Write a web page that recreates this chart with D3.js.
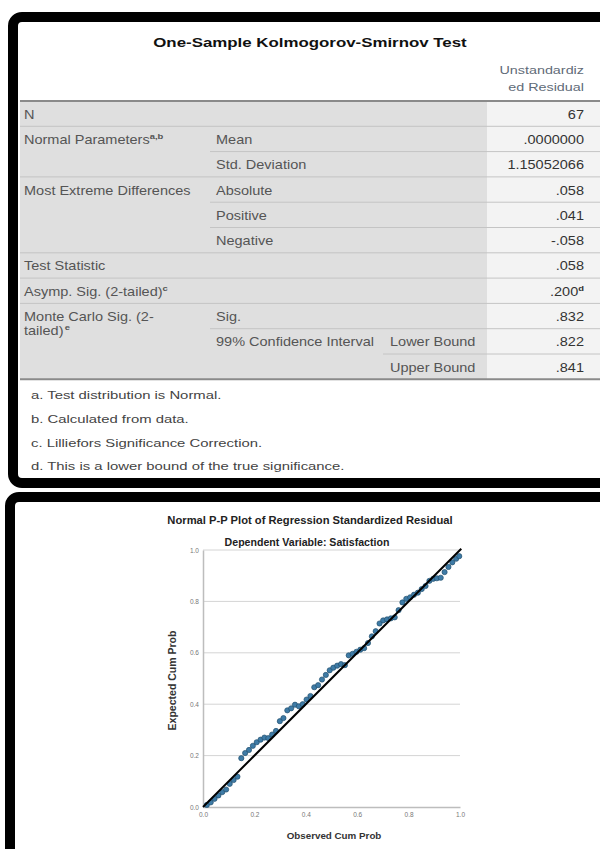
<!DOCTYPE html>
<html><head><meta charset="utf-8">
<script src="https://cdn.jsdelivr.net/npm/d3@7/dist/d3.min.js"></script>
<style>html,body{margin:0;padding:0;background:#fff}svg{display:block}</style>
</head><body>
<script>
// ---------- DATA ----------
const tableTitle = "One-Sample Kolmogorov-Smirnov Test";
const columnHeader = ["Unstandardiz", "ed Residual"];
const col1Labels = ["N", "Normal Parameters", "", "Most Extreme Differences", "", "", "Test Statistic", "Asymp. Sig. (2-tailed)", "Monte Carlo Sig. (2-", "", ""];
const col1Sup    = ["", "a,b", "", "", "", "", "", "c", "", "", ""];
const col2Labels = ["", "Mean", "Std. Deviation", "Absolute", "Positive", "Negative", "", "", "Sig.", "99% Confidence Interval", ""];
const col3Labels = ["", "", "", "", "", "", "", "", "", "Lower Bound", "Upper Bound"];
const cellValues = ["67", ".0000000", "1.15052066", ".058", ".041", "-.058", ".058", ".200", ".832", ".822", ".841"];
const valueSup   = ["", "", "", "", "", "", "", "d", "", "", ""];
const lineStart  = ["full", "c2", "full", "c2", "c2", "full", "full", "full", "c2", "c3", "bottom"];
const footnotes = ["a. Test distribution is Normal.", "b. Calculated from data.", "c. Lilliefors Significance Correction.", "d. This is a lower bound of the true significance."];

const plotTitle = "Normal P-P Plot of Regression Standardized Residual";
const plotSubtitle = "Dependent Variable: Satisfaction";
const xAxisLabel = "Observed Cum Prob";
const yAxisLabel = "Expected Cum Prob";
const axisTicks = [0, 0.2, 0.4, 0.6, 0.8, 1.0];
const observedCum = [0.015,0.030,0.045,0.060,0.075,0.090,0.104,0.119,0.134,0.149,0.164,0.179,0.194,0.209,0.224,0.239,0.254,0.269,0.284,0.299,0.313,0.328,0.343,0.358,0.373,0.388,0.403,0.418,0.433,0.448,0.463,0.478,0.493,0.507,0.522,0.537,0.552,0.567,0.582,0.597,0.612,0.627,0.642,0.657,0.672,0.687,0.701,0.716,0.731,0.746,0.761,0.776,0.791,0.806,0.821,0.836,0.851,0.866,0.881,0.896,0.910,0.925,0.940,0.955,0.970,0.985,0.997];
const expectedCum = [0.008,0.018,0.032,0.045,0.058,0.068,0.090,0.105,0.118,0.190,0.210,0.222,0.238,0.252,0.262,0.270,0.268,0.282,0.296,0.334,0.346,0.376,0.384,0.398,0.392,0.400,0.418,0.432,0.466,0.474,0.496,0.514,0.532,0.542,0.550,0.556,0.552,0.590,0.596,0.604,0.612,0.618,0.638,0.664,0.684,0.714,0.726,0.730,0.734,0.738,0.766,0.796,0.810,0.816,0.826,0.834,0.848,0.860,0.880,0.888,0.890,0.892,0.914,0.934,0.952,0.966,0.976];

// ---------- DRAW ----------
const W = 600, H = 849;
const svg = d3.select("body").append("svg").attr("width", W).attr("height", H);
const FONT = "'Liberation Sans', Arial, sans-serif";

// text placed at (x,y) and stretched horizontally by sx around its anchor
function stext(g, x, y, str, sx, size, opts = {}) {
  const t = g.append("text").attr("transform", `translate(${x},${y}) scale(${sx},1)`)
    .attr("font-size", size).attr("fill", opts.fill || "#555")
    .attr("text-anchor", opts.anchor || "start")
    .attr("font-weight", opts.weight || "normal").text(str);
  return t;
}

// Frames
svg.append("rect").attr("x", 13).attr("y", 17).attr("width", 620).attr("height", 466)
  .attr("rx", 9).attr("fill", "#fff").attr("stroke", "#000").attr("stroke-width", 10);
svg.append("rect").attr("x", 10).attr("y", 497).attr("width", 620).attr("height", 400)
  .attr("rx", 9).attr("fill", "#fff").attr("stroke", "#000").attr("stroke-width", 10);

// ---------- TABLE ----------
const T = svg.append("g").style("font-family", FONT);
const xLeft = 20, xRight = 600, xC2 = 210, xC3 = 383, xVal = 487, xValR = 584;
const headerY = 101, rowH = 25.3, SX = 1.18, FS = 12.3;
const rowY = i => headerY + rowH * i;

stext(T, 310, 47, tableTitle, 1.25, 13.5, {anchor: "middle", weight: "bold", fill: "#111"});
columnHeader.forEach((t, i) => stext(T, xValR, 74 + i * 17, t, 1.25, 11.5, {anchor: "end", fill: "#5f6b78"}));

T.append("rect").attr("x", xLeft).attr("y", headerY).attr("width", xVal - xLeft)
  .attr("height", rowH * cellValues.length).attr("fill", "#dfdfdf");
T.append("rect").attr("x", xVal).attr("y", headerY).attr("width", xRight - xVal)
  .attr("height", rowH * cellValues.length).attr("fill", "#f3f3f3");

const startX = {full: xLeft, c2: xC2, c3: xC3, bottom: xLeft};
cellValues.forEach((v, i) => {
  const yb = rowY(i + 1);
  const kind = lineStart[i];
  T.append("line").attr("x1", startX[kind]).attr("x2", xRight).attr("y1", yb).attr("y2", yb)
    .attr("stroke", kind === "bottom" ? "#8a8a8a" : "#c4c4c4").attr("stroke-width", kind === "bottom" ? 2 : 1);
  const ty = rowY(i) + rowH / 2 + 5;
  if (col1Labels[i]) {
    const t = stext(T, 24, ty, col1Labels[i], SX, FS);
    if (col1Sup[i]) t.append("tspan").attr("dy", -5).attr("font-size", 8).attr("font-weight", "bold").text(col1Sup[i]);
  }
  if (col2Labels[i]) stext(T, 216, ty, col2Labels[i], SX, FS);
  if (col3Labels[i]) stext(T, 390, ty, col3Labels[i], SX, FS);
  const vt = stext(T, xValR, ty, v, SX, FS, {anchor: "end", fill: "#333"});
  if (valueSup[i]) vt.append("tspan").attr("dy", -5).attr("font-size", 8).attr("font-weight", "bold").text(valueSup[i]);
});
// second line of Monte Carlo label
{
  const t = stext(T, 24, rowY(8) + rowH / 2 + 5 + 14, "tailed)", SX, FS);
  t.append("tspan").attr("dy", -5).attr("dx", 1).attr("font-size", 8).attr("font-weight", "bold").text("e");
}
T.append("line").attr("x1", xLeft).attr("x2", xRight).attr("y1", headerY).attr("y2", headerY)
  .attr("stroke", "#8a8a8a").attr("stroke-width", 2);

footnotes.forEach((f, i) => stext(T, 31, 399 + i * 23.8, f, 1.26, 11.8, {fill: "#444"}));

// ---------- P-P PLOT ----------
const P = svg.append("g").style("font-family", FONT);
const x = d3.scaleLinear().domain([0, 1]).range([203, 460]);
const y = d3.scaleLinear().domain([0, 1]).range([807, 550]);

stext(P, 310, 524, plotTitle, 1.12, 10, {anchor: "middle", weight: "bold", fill: "#222"});
stext(P, 307, 546, plotSubtitle, 1.06, 10, {anchor: "middle", weight: "bold", fill: "#222"});

// gridlines
P.append("g").selectAll("line").data(axisTicks.slice(1)).join("line")
  .attr("x1", x(0)).attr("x2", x(1)).attr("y1", d => y(d)).attr("y2", d => y(d))
  .attr("stroke", "#d4d4d4").attr("stroke-width", 1);

const xAxis = P.append("g").attr("transform", `translate(0,${y(0)})`)
  .call(d3.axisBottom(x).tickValues(axisTicks).tickFormat(d3.format(".1f")).tickSize(0).tickPadding(5));
const yAxis = P.append("g").attr("transform", `translate(${x(0)},0)`)
  .call(d3.axisLeft(y).tickValues(axisTicks).tickFormat(d3.format(".1f")).tickSize(0).tickPadding(4));
[xAxis, yAxis].forEach(a => {
  a.select(".domain").attr("stroke", "#bdbdbd").attr("stroke-width", 1.5);
  a.selectAll("text").attr("font-size", 6.5).attr("fill", "#777").style("font-family", FONT);
});

P.append("text").attr("x", 334).attr("y", 839).attr("text-anchor", "middle")
  .attr("font-size", 9.8).attr("font-weight", "bold").attr("fill", "#333").text(xAxisLabel);
P.append("text").attr("transform", `translate(176,${(y(0) + y(1)) / 2 + 2}) rotate(-90)`).attr("text-anchor", "middle")
  .attr("font-size", 10.5).attr("font-weight", "bold").attr("fill", "#333").text(yAxisLabel);

// points
const pts = observedCum.map((o, i) => ({o, e: expectedCum[i]}));
P.append("g").selectAll("circle").data(pts).join("circle")
  .attr("cx", d => x(d.o)).attr("cy", d => y(d.e)).attr("r", 2.6)
  .attr("fill", "#3e7ba6").attr("stroke", "#24506f").attr("stroke-width", 0.7);

// diagonal reference line
P.append("line").attr("x1", x(0)).attr("y1", y(0)).attr("x2", x(1.005)).attr("y2", y(1.005))
  .attr("stroke", "#000").attr("stroke-width", 2);
</script>
</body></html>
